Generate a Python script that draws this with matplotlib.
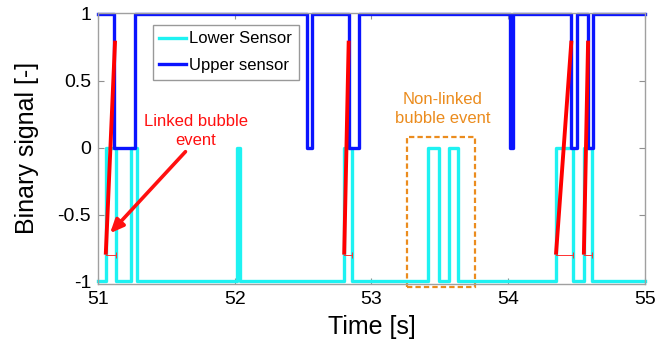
import numpy as np
import matplotlib.pyplot as plt
from matplotlib.patches import Rectangle

plt.rcParams['font.family'] = ['Liberation Sans', 'DejaVu Sans']

t0, t1 = 51.0, 55.0

# lower sensor: pulses from -1 up to 0 (start, end) in seconds
lower_on = [51.057, 51.242, 52.019, 52.801, 53.416, 53.571, 54.350, 54.554]
lower_off = [51.134, 51.287, 52.036, 52.859, 53.498, 53.637, 54.473, 54.613]

# upper sensor: dips from 1 down to 0
upper_on = [51.120, 52.528, 52.834, 54.012, 54.463, 54.585]
upper_off = [51.273, 52.569, 52.911, 54.036, 54.501, 54.624]

# linked events: lower rise -> upper fall
link_lower = [51.057, 52.801, 54.350, 54.554]
link_upper = [51.125, 52.834, 54.463, 54.585]
link_lower_end = [51.134, 52.859, 54.473, 54.613]
link_y0, link_y1 = -0.8, 0.8

# non-linked event box
box_x = [53.261, 53.760]
box_y = [-1.04, 0.08]

xticks = [51, 52, 53, 54, 55]
yticks = [-1, -0.5, 0, 0.5, 1]


def square_wave(starts, ends, base, level):
    xs = [t0]
    ys = [base]
    for s, e in zip(starts, ends):
        xs += [s, s, e, e]
        ys += [base, level, level, base]
    xs.append(t1)
    ys.append(base)
    return xs, ys


fig = plt.figure(figsize=(6.71, 3.41), dpi=100)
ax = fig.add_axes([0.146, 0.167, 0.815, 0.796])

xl, yl = square_wave(lower_on, lower_off, -1, 0)
xu, yu = square_wave(upper_on, upper_off, 1, 0)
ax.plot(xl, yl, color='#1EF2F2', lw=2.4, label='Lower Sensor', clip_on=False)
ax.plot(xu, yu, color='#0A14FF', lw=2.4, label='Upper sensor', clip_on=False)

for a, b, c in zip(link_lower, link_upper, link_lower_end):
    ax.plot([a, c], [link_y0, link_y0], color='#FF3030', lw=0.7)
    ax.plot([c], [link_y0], marker='|', color='#FF3030', ms=5, mew=0.7)
    ax.plot([a, b], [link_y0, link_y1], color='#FF0000', lw=2.8,
            solid_capstyle='butt')

ax.add_patch(Rectangle((box_x[0], box_y[0]), box_x[1] - box_x[0],
                       box_y[1] - box_y[0], fill=False, ec='#EB8C1E',
                       lw=1.6, ls=(0, (2.4, 1.4)), clip_on=False))

ax.text(51.714, 0.125, 'Linked bubble\nevent', color='#FF1010', fontsize=12,
        ha='center', va='center', linespacing=1.3)
ax.annotate('', xy=(51.088, -0.64), xytext=(51.64, -0.03),
            arrowprops=dict(arrowstyle='-|>,head_length=0.8,head_width=0.35',
                            color='#FF1010', lw=2.6, shrinkA=0, shrinkB=0))
ax.text(53.52, 0.29, 'Non-linked\nbubble event', color='#EB8C1E', fontsize=12,
        ha='center', va='center', linespacing=1.3)

ax.set_xlim(t0, t1)
ax.set_ylim(-1.02, 1.01)
ax.set_xticks(xticks)
ax.set_xticklabels([str(v) for v in xticks])
ax.set_yticks(yticks)
ax.set_yticklabels(['-1', '-0.5', '0', '0.5', '1'])
ax.tick_params(direction='in', length=4, color='#909090', labelsize=14,
               top=True, right=True, pad=5)
for s in ax.spines.values():
    s.set_color('#A0A0A0')
    s.set_linewidth(1.0)

ax.set_xlabel('Time [s]', fontsize=18, labelpad=5)
ax.set_ylabel('Binary signal [-]', fontsize=18, labelpad=13)

leg = ax.legend(loc='upper left', bbox_to_anchor=(0.1, 0.955), fontsize=12,
                frameon=True, fancybox=False, handlelength=1.6,
                borderpad=0.4, labelspacing=0.7, handletextpad=0.2,
                borderaxespad=0)
leg.get_frame().set_edgecolor('#808080')
leg.get_frame().set_linewidth(1.0)

fig.savefig('out.png', dpi=100)
